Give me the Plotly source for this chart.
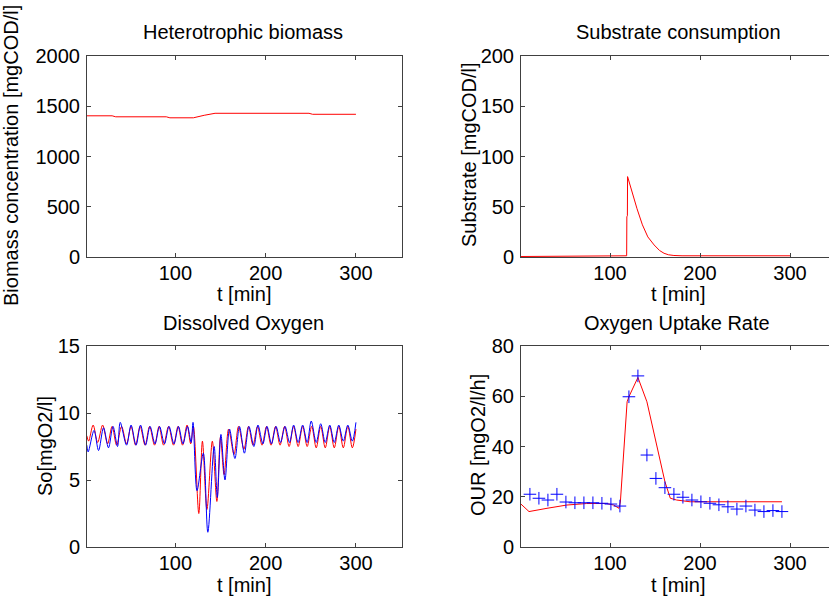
import plotly.graph_objects as go

# ---------------- data ----------------
bio_t = [2, 30, 34, 90, 94, 120, 132, 144, 248, 252, 300]
bio = [1405, 1405, 1395, 1395, 1385, 1385, 1410, 1430, 1430, 1420, 1420]

sub_t = [1, 70, 70.5, 118.5, 118.7, 119.3, 119.5, 125, 130, 136, 142, 149, 155, 160, 165, 171, 180, 300]
sub = [0.5, 0.5, 1.2, 1.2, 40, 41, 80, 63, 48, 32, 20, 12, 6.5, 3.7, 2.2, 1.5, 1.2, 1.2]

do_red_t = [2, 4, 9, 14, 19.5, 25, 30, 35, 40.5, 46, 51, 56, 61, 66.5, 71.5, 77, 82, 87,
            92.5, 98, 103, 108, 113, 117, 120, 126, 130, 135, 141, 146, 150, 154, 159,
            165, 170, 176, 181, 186, 191, 196, 201, 206, 211, 216, 221, 226, 231, 236,
            241, 246, 251, 256, 261, 266, 271, 276, 281, 286, 291, 296, 300]
do_red = [8.3, 7.9, 9.1, 7.8, 9.1, 7.7, 9.0, 7.6, 9.0, 7.7, 9.0, 7.6, 9.0, 7.6, 9.0, 7.6, 9.0, 7.6,
          9.0, 7.6, 9.0, 7.6, 9.1, 7.7, 9.0, 2.5, 7.9, 2.8, 7.9, 3.4, 8.2, 5.4, 8.8,
          6.9, 9.0, 7.3, 9.0, 7.6, 9.0, 7.6, 9.0, 7.6, 9.0, 7.6, 9.0, 7.5, 9.0, 7.5,
          9.0, 7.5, 9.0, 7.4, 9.0, 7.4, 9.0, 7.4, 9.0, 7.4, 9.0, 7.4, 8.8]

do_blue_t = [2, 3.5, 10, 15, 20.5, 26, 31, 36, 39, 46, 51, 56.5, 61.5, 67, 72, 77.5, 82.5, 88,
             93, 98.5, 103.5, 108.5, 113.5, 117.5, 119.6, 124, 131, 136, 143, 146.5, 150.5,
             155, 160, 166, 171, 176.5, 181.5, 187, 191.5, 197, 201.5, 206.5, 211.5, 216.5,
             221.5, 226.5, 231, 236, 241, 246, 250.5, 256, 261, 266, 271, 276, 281, 286,
             291, 296, 300]
do_blue = [7.6, 7.1, 8.7, 7.2, 8.9, 7.4, 9.0, 7.5, 9.3, 7.6, 9.1, 7.6, 9.1, 7.6, 9.0, 7.7, 9.0, 7.7,
           9.0, 7.7, 9.0, 7.7, 9.0, 7.8, 9.3, 4.2, 7.0, 1.1, 7.5, 3.7, 8.4,
           5.0, 8.8, 6.6, 9.0, 7.0, 9.0, 7.5, 9.1, 7.7, 9.0, 7.7, 9.0, 7.8,
           9.0, 7.8, 9.1, 7.8, 9.1, 7.8, 9.4, 7.8, 9.2, 7.8, 9.1, 7.8, 9.1, 7.9,
           9.1, 7.9, 9.3]

our_t = [1, 10, 30, 52, 74, 96, 104, 110, 111.5, 119, 121, 131, 141, 151, 161, 167, 174, 189, 291]
our_model = [17.1, 14.1, 15.4, 16.7, 17.3, 17.3, 16.7, 15.4, 17.9, 57.8, 59.8, 67.5, 57.8, 41.3,
             26.0, 19.4, 18.7, 18.0, 18.0]

our_meas_t = [1, 11, 21, 31, 41, 51, 61, 71, 81, 91, 101, 111, 121, 131, 141, 151, 161, 171,
              181, 191, 201, 211, 221, 231, 241, 251, 261, 271, 281, 291]
our_meas = [23.1, 21.0, 19.4, 18.7, 21.0, 17.9, 17.6, 17.6, 17.6, 17.4, 17.1, 16.3, 59.8, 68.1,
            36.6, 27.3, 23.6, 21.0, 19.8, 18.7, 18.0, 17.4, 16.8, 16.0, 15.1, 16.3, 14.7, 14.1,
            14.5, 14.1]

titles = ["Heterotrophic biomass", "Substrate consumption", "Dissolved Oxygen", "Oxygen Uptake Rate"]
ylabels = ["Biomass concentration [mgCOD/l]", "Substrate [mgCOD/l]", "So[mgO2/l]", "OUR [mgO2/l/h]"]
xlabel = "t [min]"
x_ticks = [100, 200, 300]
y_ticks = [[0, 500, 1000, 1500, 2000], [0, 50, 100, 150, 200], [0, 5, 10, 15], [0, 20, 40, 60, 80]]

# ---------------- figure ----------------
W, H = 829, 600
FONT = "Liberation Sans, Arial, Helvetica, sans-serif"
RED = "#ff0000"
BLUE = "#0000ff"
AX = "#404040"

fig = go.Figure()
fig.add_trace(go.Scatter(x=bio_t, y=bio, mode="lines", line=dict(color=RED, width=1),
                         xaxis="x", yaxis="y", showlegend=False))
fig.add_trace(go.Scatter(x=sub_t, y=sub, mode="lines", line=dict(color=RED, width=1),
                         xaxis="x2", yaxis="y2", showlegend=False))
fig.add_trace(go.Scatter(x=do_red_t, y=do_red, mode="lines",
                         line=dict(color=RED, width=1, shape="spline", smoothing=0.9),
                         xaxis="x3", yaxis="y3", showlegend=False))
fig.add_trace(go.Scatter(x=do_blue_t, y=do_blue, mode="lines",
                         line=dict(color=BLUE, width=1, shape="spline", smoothing=0.9),
                         xaxis="x3", yaxis="y3", showlegend=False))
fig.add_trace(go.Scatter(x=our_t, y=our_model, mode="lines", line=dict(color=RED, width=1),
                         xaxis="x4", yaxis="y4", showlegend=False))
fig.add_trace(go.Scatter(x=our_meas_t, y=our_meas, mode="markers", cliponaxis=False,
                         marker=dict(symbol="cross-thin", size=9, color=BLUE,
                                     line=dict(color=BLUE, width=1)),
                         xaxis="x4", yaxis="y4", showlegend=False))

# pixel boxes: (left, right, top, bottom)
boxes = [(87, 402, 56, 257), (521, 829, 56, 257), (87, 402, 346, 547), (521, 829, 346, 547)]
xranges = [[2.2, 351], [1.1, 343.3], [2.2, 351], [1.1, 343.3]]
yranges = [[0, 2000], [0, 200], [0, 15], [0, 80]]
right_col = [False, True, False, True]

tick_font = dict(family=FONT, size=20, color="black")
layout = dict(template="none", width=W, height=H, autosize=False,
              margin=dict(l=0, r=0, t=0, b=0, pad=0, autoexpand=False),
              paper_bgcolor="white", plot_bgcolor="white", showlegend=False,
              font=dict(family=FONT, size=20, color="black"))

annotations = []
for i, (l, r, t, b) in enumerate(boxes):
    sfx = "" if i == 0 else str(i + 1)
    layout["xaxis" + sfx] = dict(
        domain=[l / W, r / W], range=xranges[i], anchor="y" + sfx, automargin=False,
        tickvals=x_ticks, ticks="inside", ticklen=4, tickcolor=AX, tickwidth=1,
        showline=True, linecolor=AX, linewidth=1, mirror="ticks",
        showgrid=False, zeroline=False, tickfont=tick_font, ticklabelstandoff=-2)
    layout["yaxis" + sfx] = dict(
        domain=[1 - b / H, 1 - t / H], range=yranges[i], anchor="x" + sfx, automargin=False,
        tickvals=y_ticks[i], ticks="inside", ticklen=4, tickcolor=AX, tickwidth=1,
        showline=True, linecolor=AX, linewidth=1,
        mirror=False if right_col[i] else "ticks",
        showgrid=False, zeroline=False, tickfont=tick_font, ticklabelstandoff=2)

# titles, axis labels (pixel centres)
title_pos = [(243, 32), (678, 32), (243, 323), (677, 323)]
xlabel_pos = [(244, 294), (678, 294), (244, 585), (678, 585)]
ylabel_pos = [(11, 156), (469, 155), (45, 446), (478, 445)]
for i in range(4):
    tx, ty = title_pos[i]
    annotations.append(dict(text=titles[i], x=tx / W, y=1 - ty / H, xref="paper", yref="paper",
                            xanchor="center", yanchor="middle", showarrow=False,
                            font=dict(family=FONT, size=20, color="black")))
    lx, ly = xlabel_pos[i]
    annotations.append(dict(text=xlabel, x=lx / W, y=1 - ly / H, xref="paper", yref="paper",
                            xanchor="center", yanchor="middle", showarrow=False,
                            font=dict(family=FONT, size=20, color="black")))
    yx, yy = ylabel_pos[i]
    annotations.append(dict(text=ylabels[i], x=yx / W, y=1 - yy / H, xref="paper", yref="paper",
                            xanchor="center", yanchor="middle", showarrow=False, textangle=-90,
                            font=dict(family=FONT, size=20, color="black")))
layout["annotations"] = annotations

fig.update_layout(**layout)
fig.write_html("out.html")
